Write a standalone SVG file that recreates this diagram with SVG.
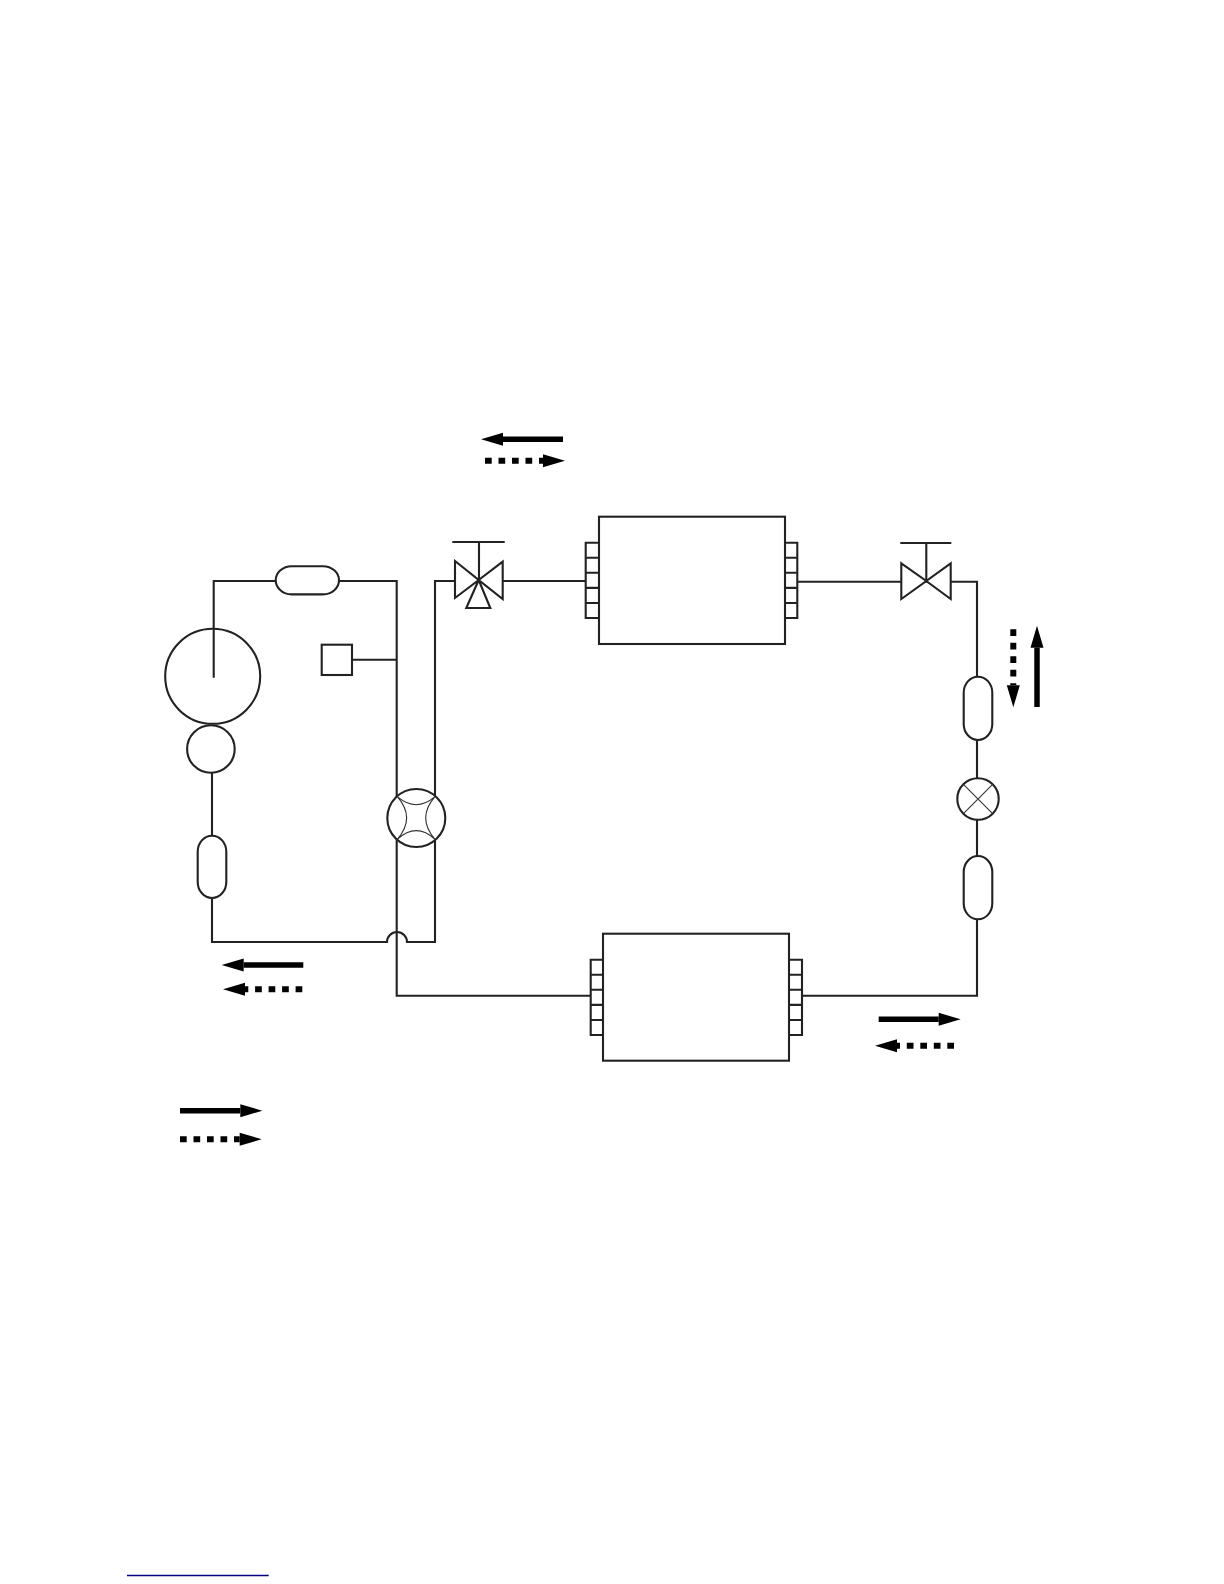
<svg xmlns="http://www.w3.org/2000/svg" width="1224" height="1584" viewBox="0 0 1224 1584">
<style>
.l{fill:none;stroke:#222;stroke-width:2.1;stroke-linejoin:miter}
.n{fill:#fff;stroke:#222;stroke-width:2.1}
.t{fill:none;stroke:#333;stroke-width:1.1}
.s{fill:none;stroke:#000;stroke-width:5.5;marker-end:url(#h)}
.d{fill:none;stroke:#000;stroke-width:6;stroke-dasharray:6.7 6.8;marker-end:url(#h)}
</style>
<defs>
<marker id="h" markerUnits="userSpaceOnUse" markerWidth="24" markerHeight="16" refX="0" refY="6.5" orient="auto" overflow="visible">
<path d="M0 0L22 6.5L0 13Z" fill="#000"/>
</marker>
</defs>
<rect width="1224" height="1584" fill="#fff"/>
<g id="connectors">
<path class="l" d="M213.7 677.7V581H396.7V995.7H590.7"/>
<path class="l" d="M352 659.7H396.7"/>
<path class="l" d="M455 581H435V942H407A10 10 0 0 0 387 942H212V772.7"/>
<path class="l" d="M502.7 581H585.7"/>
<path class="l" d="M797.3 581.7H950.7M950.7 581.7H977V799M977 799V995.7H802"/>
</g>
<g id="receiver-top"><rect class="n" x="275.7" y="566.2" width="63.3" height="28.2" rx="16" ry="14.1"/></g>
<g id="compressor"><circle class="l" cx="212.7" cy="676.3" r="47.5"/></g>
<g id="accumulator"><circle class="n" cx="210.9" cy="749" r="23.8"/></g>
<g id="receiver-left"><rect class="n" x="197.7" y="835.7" width="28.6" height="62.3" rx="14.3" ry="16"/></g>
<g id="pressure-switch"><rect class="n" x="321.7" y="644.7" width="30.3" height="30.3"/></g>
<g id="four-way-valve">
<circle class="n" cx="416.3" cy="818" r="29"/>
<path class="t" d="M397.3 796.7Q416.3 812.7 435 796.7M397.3 839.3Q416.3 822 435 839.3M397.3 796.7Q416 818 397.3 839.3M435 796.7Q416.4 818 435 839.3"/>
</g>
<g id="three-way-valve">
<path class="n" d="M455 561L478.7 580L455 598ZM502.7 561.7L478.7 580L502.7 599ZM478.7 580L466.3 608H490.3Z"/>
<path class="l" d="M479 542V580M452.3 542H504.7"/>
</g>
<g id="two-way-valve">
<path class="n" d="M901.3 563.3L926.3 581L901.3 599ZM950.7 563.3L926.3 581L950.7 599Z"/>
<path class="l" d="M926.3 543V581M900.3 543H951.3"/>
</g>
<g id="upper-coil">
<rect class="n" x="599" y="516.7" width="186" height="127.3"/>
<path class="l" d="M599 542.7H585.7V618H599M585.7 557.8H599M585.7 572.8H599M585.7 587.9H599M585.7 603H599"/>
<path class="l" d="M785 542.7H797.3V618H785M785 557.8H797.3M785 572.8H797.3M785 587.9H797.3M785 603H797.3"/>
</g>
<g id="lower-coil">
<rect class="n" x="603" y="933.7" width="186" height="127"/>
<path class="l" d="M603 959.7H590.7V1035H603M590.7 974.8H603M590.7 989.8H603M590.7 1004.9H603M590.7 1020H603"/>
<path class="l" d="M789 959.7H802V1035H789M789 974.8H802M789 989.8H802M789 1004.9H802M789 1020H802"/>
</g>
<g id="receiver-right-upper"><rect class="n" x="963.7" y="676.7" width="28.6" height="63.3" rx="14.3" ry="16"/></g>
<g id="expansion-valve">
<circle class="n" cx="978" cy="799" r="20.7"/>
<path class="t" d="M963.4 784.4L992.6 813.6M992.6 784.4L963.4 813.6"/>
</g>
<g id="receiver-right-lower"><rect class="n" x="963.7" y="856" width="28.6" height="63.3" rx="14.3" ry="16"/></g>
<g id="flow-arrows">
<path class="s" d="M563 439.3H503"/>
<path class="d" d="M485 460.7H543"/>
<path class="s" d="M303.3 965H243.7"/>
<path class="d" d="M302.3 989.3H245"/>
<path class="s" d="M180 1110.7H240.3"/>
<path class="d" d="M180 1139.3H239.7"/>
<path class="s" d="M878.7 1019.3H938.7"/>
<path class="d" d="M954 1045.7H897"/>
<path class="s" d="M1037 707V647.7"/>
<path class="d" d="M1013.3 629.3V685.3"/>
</g>
<path id="page-rule" d="M127 1575.5H268.7" fill="none" stroke="#000080" stroke-width="1.5"/>
</svg>
